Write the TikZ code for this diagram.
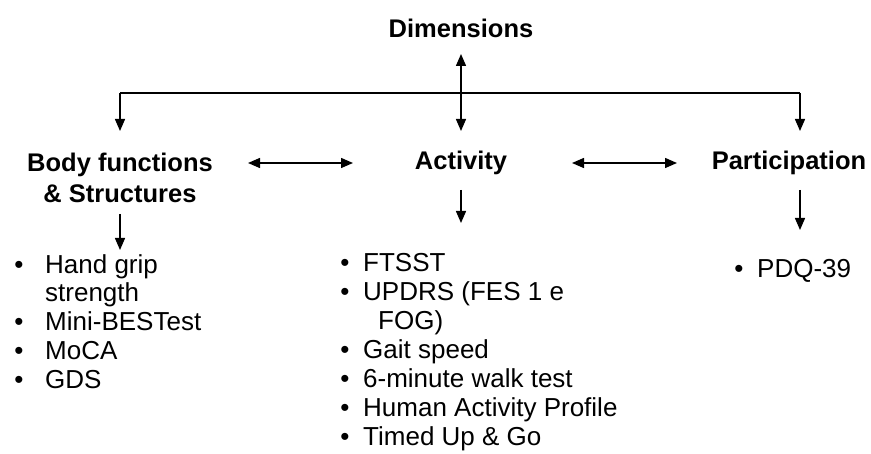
\documentclass[tikz,border=0pt]{standalone}
\usepackage{fontspec}
\setmainfont{Liberation Sans}
\usetikzlibrary{arrows.meta}
\begin{document}
\begin{tikzpicture}[x=1pt,y=-1pt,
  conn/.style={line width=1.4pt,-{Triangle[length=12pt,width=10pt]}},
  biconn/.style={line width=1.4pt,{Triangle[length=12pt,width=10pt]}-{Triangle[length=12pt,width=10pt]}},
  head/.style={font=\fontsize{25.5}{30.5}\selectfont\bfseries,align=center,inner sep=0pt},
  item/.style={font=\fontsize{26}{29}\selectfont,anchor=base west,inner sep=0pt},
  bul/.style={font=\fontsize{26}{29}\selectfont,anchor=base,inner sep=0pt}]
\useasboundingbox (0,0) rectangle (871,454);

% headings
\node[head] (dim) at (461,28) {Dimensions};
\node[head] (body) at (120,178) {Body functions\\\& Structures};
\node[head] (act) at (461,163) {Activity};
\node[head] (par) at (789,163) {Participation};

% branching bar under the title
\coordinate (top) at (461,54);
\coordinate (bl) at (120,93);
\coordinate (br) at (800,93);
\coordinate (tl) at (120,131);
\coordinate (tm) at (461,131);
\coordinate (tr) at (800,131);
\draw[line width=1.4pt] (bl) -- (br);
\draw[conn] (bl) -- (tl);
\draw[conn] (br) -- (tr);
\draw[biconn] (top) -- (tm);

% links between the dimensions
\coordinate (a1) at (248,163);
\coordinate (a2) at (353,163);
\coordinate (b1) at (572,163);
\coordinate (b2) at (677,163);
\draw[biconn] (a1) -- (a2);
\draw[biconn] (b1) -- (b2);

% arrows to the measures
\coordinate (d1s) at (120,214);
\coordinate (d1e) at (120,250);
\coordinate (d2s) at (461,190);
\coordinate (d2e) at (461,223);
\coordinate (d3s) at (800,190);
\coordinate (d3e) at (800,230);
\draw[conn] (d1s) -- (d1e);
\draw[conn] (d2s) -- (d2e);
\draw[conn] (d3s) -- (d3e);

% body functions list
\foreach \y in {274,331,360,389}
  \node[bul] at (19,\y) {•};
\node[item] (l1) at (45,274) {Hand grip};
\node[item] (l1b) at (45,302) {strength};
\node[item] (l2) at (45,331) {Mini-BESTest};
\node[item] (l3) at (45,360) {MoCA};
\node[item] (l4) at (45,389) {GDS};

% activity list
\foreach \y in {272,301,359,388,417,446}
  \node[bul] at (345,\y) {•};
\node[item] (m1) at (363,272) {FTSST};
\node[item] (m2) at (363,301) {UPDRS (FES 1 e};
\node[item] (m2b) at (378,330) {FOG)};
\node[item] (m3) at (363,359) {Gait speed};
\node[item] (m4) at (363,388) {6-minute walk test};
\node[item] (m5) at (363,417) {Human Activity Profile};
\node[item] (m6) at (363,446) {Timed Up \& Go};

% participation list
\node[bul] at (739,278) {•};
\node[item] (r1) at (757,278) {PDQ-39};
\end{tikzpicture}
\end{document}
